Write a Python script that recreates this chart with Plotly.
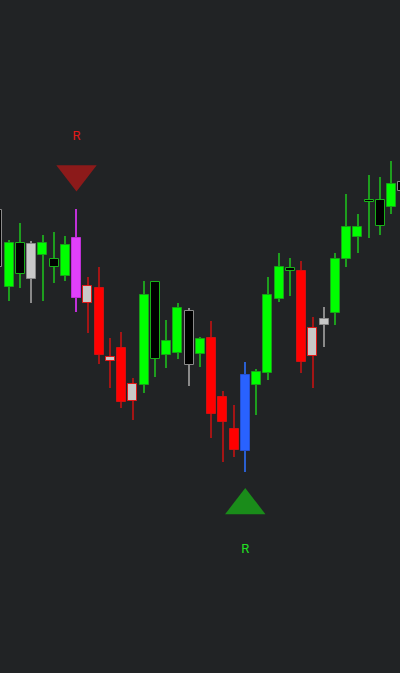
import plotly.graph_objects as go

# ---- data ----
idx = list(range(37))
open_ = [126.6, 122.6, 125.2, 131.2, 129.0, 126.6, 124.8, 120.4, 122.8, 122.4,
         108.6, 110.4, 103.2, 103.0, 108.2, 109.0, 109.4, 117.8, 109.2, 112.4,
         100.6, 94.2, 89.8, 103.0, 105.4, 120.2, 125.8, 125.8, 114.4, 116.2,
         117.4, 128.2, 132.6, 139.6, 134.8, 138.6, 141.8]
high = [138.4, 132.0, 135.4, 131.8, 133.0, 133.6, 132.8, 138.2, 124.6, 126.6,
        112.4, 113.6, 104.4, 123.8, 123.8, 116.0, 119.4, 118.4, 112.6, 115.8,
        101.8, 99.0, 107.6, 106.2, 124.6, 129.4, 128.4, 127.8, 116.6, 118.6,
        129.4, 141.2, 137.2, 145.0, 144.6, 147.8, 145.0]
low = [126.0, 119.8, 122.4, 119.4, 119.8, 123.4, 123.8, 117.6, 113.4, 107.2,
       102.4, 98.4, 96.0, 101.4, 104.6, 106.4, 108.2, 102.8, 106.6, 92.4,
       87.6, 88.6, 85.6, 97.0, 104.0, 119.6, 120.8, 105.4, 102.4, 110.6,
       115.0, 126.6, 129.4, 132.4, 133.0, 137.2, 141.0]
close = [138.0, 131.4, 131.4, 124.2, 131.4, 128.2, 131.0, 132.4, 119.4, 109.0,
         107.8, 99.6, 99.8, 121.0, 123.6, 111.8, 118.4, 107.0, 112.2, 97.2,
         95.6, 90.0, 105.0, 105.6, 121.0, 126.6, 126.4, 107.6, 108.8, 115.0,
         128.2, 134.6, 134.6, 140.0, 140.0, 143.2, 143.6]
style = ["hollow_gray", "bull", "hollow_up", "neutral", "bull", "hollow_up", "bull",
         "signal_down", "inside_bear", "bear", "inside_bear", "bear", "inside_bear",
         "bull", "hollow_up", "bull", "bull", "hollow_gray", "bull", "bear", "bear",
         "bear", "signal_up", "bull", "bull", "bull", "hollow_up", "bear",
         "inside_bear", "neutral", "bull", "bull", "bull", "hollow_up", "hollow_up",
         "bull", "hollow_gray"]

sig_x = [7, 22]
sig_price = [145.2, 78.9]
sig_label_price = [152.6, 70.0]
sig_dir = ["down", "up"]
sig_text = ["R", "R"]

# ---- styles ----
PAL = {
    # body fill, body outline, wick
    "bull": ("#00ff00", "#1aa01a", "#1e9e1e"),
    "bear": ("#ff0000", "#d01010", "#a31515"),
    "hollow_up": ("#000000", "#19b019", "#1e9e1e"),
    "hollow_gray": ("#000000", "#8a8a8a", "#8a8a8a"),
    "neutral": ("#c8c8c8", "#8a8a8a", "#8a8a8a"),
    "inside_bear": ("#c8c8c8", "#e01818", "#a31515"),
    "signal_down": ("#e040fb", "#c030d8", "#c030d8"),
    "signal_up": ("#2962ff", "#2450d0", "#2a5fd0"),
}
BG = "#212325"

fig = go.Figure()

# wicks
fig.add_trace(go.Bar(
    x=idx, base=low, y=[h - l for h, l in zip(high, low)], width=0.11,
    marker=dict(color=[PAL[s][2] for s in style], line=dict(width=0)),
    hoverinfo="skip"))

# bodies
fig.add_trace(go.Bar(
    x=idx, base=[min(o, c) for o, c in zip(open_, close)],
    y=[max(abs(c - o), 0.4) for o, c in zip(open_, close)], width=0.8,
    marker=dict(color=[PAL[s][0] for s in style],
                line=dict(color=[PAL[s][1] for s in style], width=1)),
    hoverinfo="skip"))

# signal markers
fig.add_trace(go.Scatter(
    x=sig_x, y=sig_price, mode="markers",
    marker=dict(symbol=["triangle-down" if d == "down" else "triangle-up" for d in sig_dir],
                size=35,
                color=["#8c1a1a" if d == "down" else "#1a8c1a" for d in sig_dir],
                line=dict(width=0)),
    hoverinfo="skip"))

fig.add_trace(go.Scatter(
    x=sig_x, y=sig_label_price, mode="text", text=sig_text,
    textfont=dict(family="Roboto, DejaVu Sans, sans-serif", size=13,
                  color=["#e01a1a" if d == "down" else "#22e022" for d in sig_dir]),
    hoverinfo="skip"))

fig.update_layout(
    width=400, height=673, margin=dict(l=0, r=0, t=0, b=0),
    paper_bgcolor=BG, plot_bgcolor=BG, showlegend=False,
    barmode="overlay", bargap=0,
    xaxis=dict(range=[0.2, 35.756], visible=False, showgrid=False, zeroline=False),
    yaxis=dict(range=[45.4, 180], visible=False, showgrid=False, zeroline=False),
)

fig.write_html(
    "out.html",
    config={"displayModeBar": False},
    post_script=("document.body.style.margin='0';document.body.style.padding='0';"
                 "document.body.style.background='" + BG + "';"
                 "document.documentElement.style.background='" + BG + "';"
                 "document.body.style.overflow='hidden';"),
)
